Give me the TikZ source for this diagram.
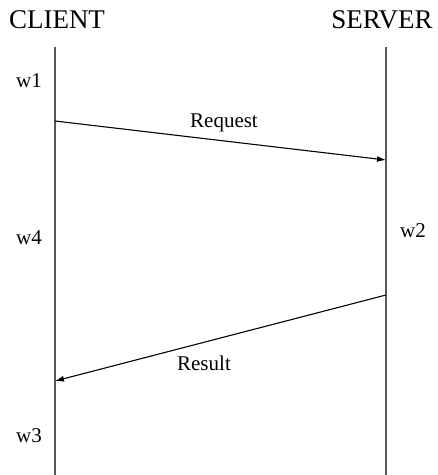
\documentclass[tikz,border=0pt]{standalone}
\usepackage{fontspec}
\setmainfont{Liberation Serif}
\usetikzlibrary{arrows.meta}
\begin{document}
\begin{tikzpicture}[x=1pt,y=-1pt,
  lifeline/.style={draw=black!65,line width=1.4pt},
  msg/.style={draw=black,line width=1.1pt,-{Latex[length=9pt,width=6pt]}},
  title/.style={font=\fontsize{27}{30}\selectfont,inner sep=0pt},
  lbl/.style={font=\fontsize{21}{24}\selectfont,inner sep=0pt}]
\useasboundingbox (0,0) rectangle (438,475);
\node[title] (client) at (57,20) {CLIENT};
\node[title] (server) at (382,20) {SERVER};
\coordinate (ctop) at (55,47);
\coordinate (cbot) at (55,475);
\coordinate (stop) at (386,47);
\coordinate (sbot) at (386,475);
\draw[lifeline] (ctop) -- (cbot);
\draw[lifeline] (stop) -- (sbot);
\coordinate (reqa) at (55,121);
\coordinate (reqb) at (386,160);
\coordinate (resa) at (386,295);
\coordinate (resb) at (55,381);
\draw[msg] (reqa) -- (reqb);
\draw[msg] (resa) -- (resb);
\node[lbl] (req) at (224,123) {Request};
\node[lbl] (res) at (204,363) {Result};
\node[lbl] (w1) at (29,81) {w1};
\node[lbl] (w4) at (29,238) {w4};
\node[lbl] (w3) at (29,436) {w3};
\node[lbl] (w2) at (413,231) {w2};
\end{tikzpicture}
\end{document}
